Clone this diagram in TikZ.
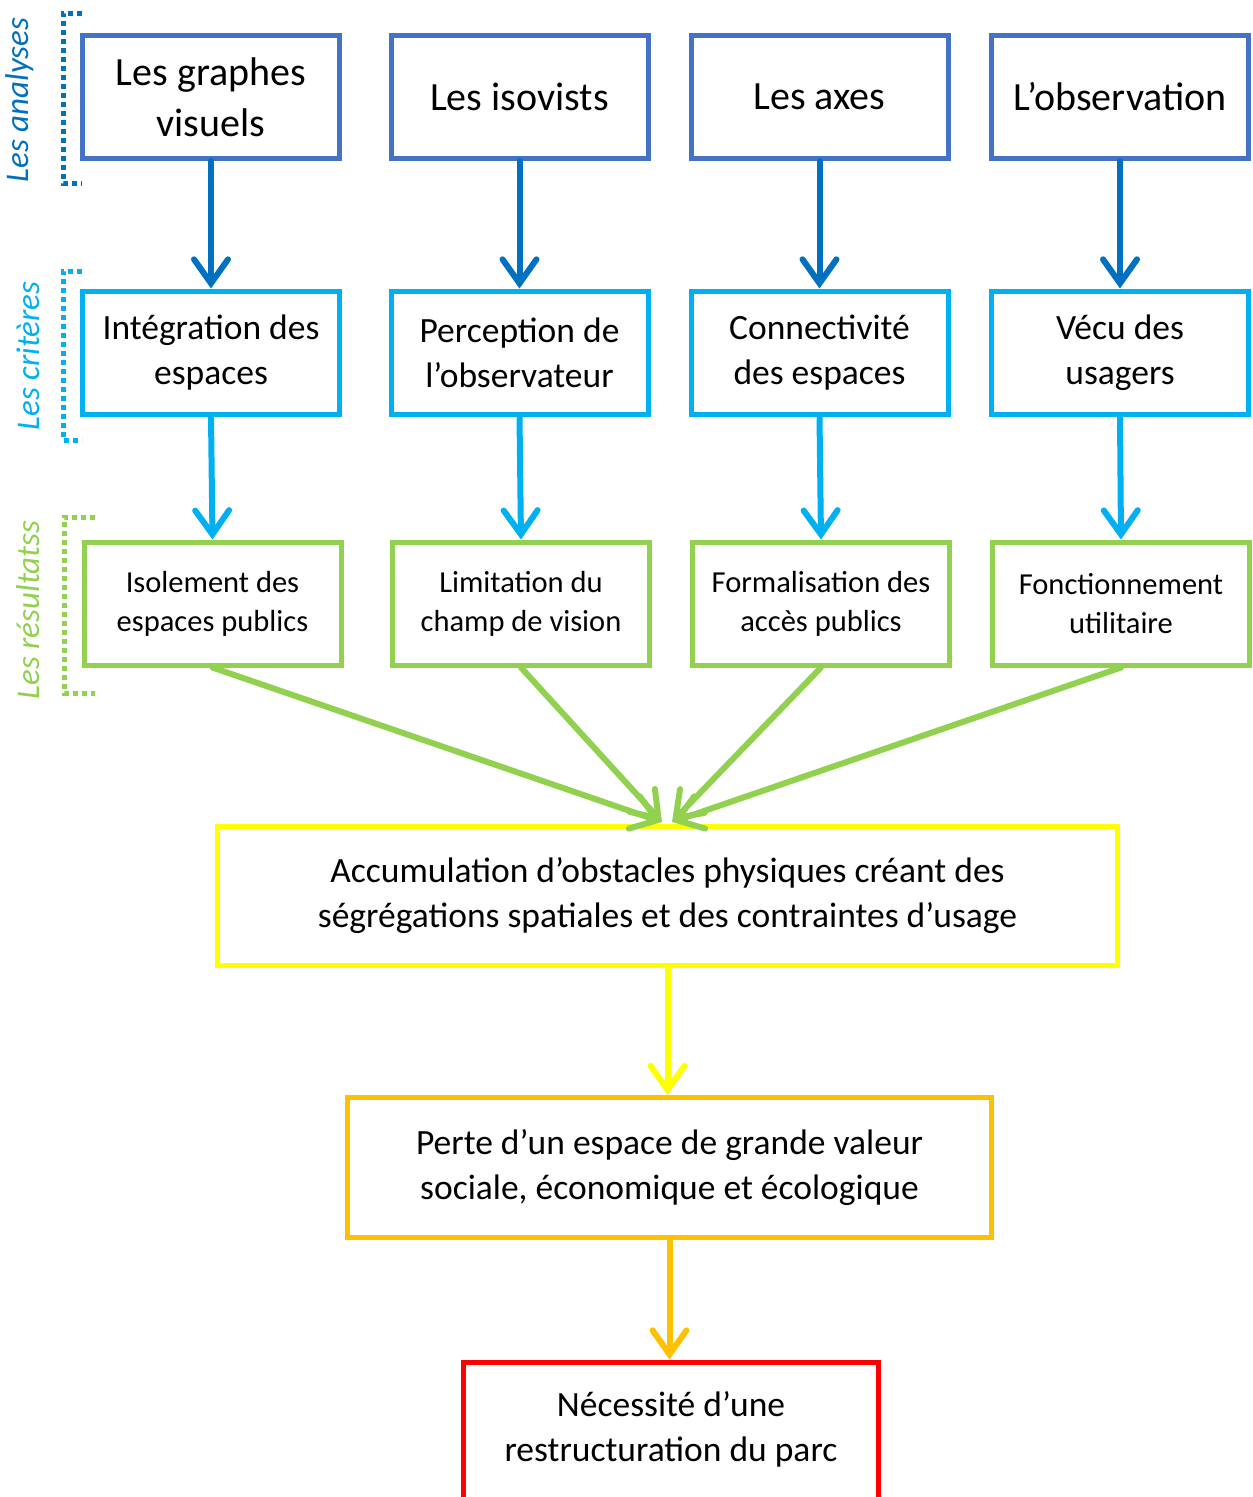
\documentclass[tikz,border=0pt]{standalone}
\usepackage{fontspec}
\setmainfont{Carlito}
\usetikzlibrary{arrows.meta}
\definecolor{cA}{HTML}{4472C4}
\definecolor{cAarr}{HTML}{0070C0}
\definecolor{cB}{HTML}{00B0F0}
\definecolor{cC}{HTML}{92D050}
\definecolor{cY}{HTML}{FFFF00}
\definecolor{cO}{HTML}{FFC000}
\definecolor{cR}{HTML}{FF0000}
\begin{document}
\begin{tikzpicture}[x=1pt,y=-1pt,
  box/.style={draw,line width=5pt,rectangle,align=center,inner sep=0pt,
    minimum width=257pt,minimum height=123pt,text=black},
  rowA/.style={box,draw=cA,font=\fontsize{40}{51}\selectfont},
  rowB/.style={box,draw=cB,font=\fontsize{35.5}{45}\selectfont},
  rowC/.style={box,draw=cC,font=\fontsize{30.5}{39}\selectfont},
  big/.style={box,font=\fontsize{35.5}{45}\selectfont},
  arr/.style={line width=6pt,-{Straight Barb[length=24pt,width=34pt,line cap=round]},line cap=round},
  side/.style={rotate=90,font=\itshape\fontsize{33}{36}\selectfont},
  brk/.style={line width=5pt,dash pattern=on 5pt off 4pt}
]
\useasboundingbox (0,0) rectangle (1253,1497);
% row A
\node[rowA] (a1) at (211,97) {Les graphes\\visuels};
\node[rowA] (a2) at (519.5,97) {Les isovists};
\node[rowA] (a3) at (819.5,97) {Les axes};
\node[rowA] (a4) at (1120,97) {L’observation};
% row B
\node[rowB] (b1) at (211,352.5) {Intégration des\\espaces};
\node[rowB] (b2) at (519.5,352.5) {Perception de\\l’observateur};
\node[rowB] (b3) at (819.5,352.5) {Connectivité\\des espaces};
\node[rowB] (b4) at (1120,352.5) {Vécu des\\usagers};
% row C
\node[rowC] (c1) at (212.5,603.5) {Isolement des\\espaces publics};
\node[rowC] (c2) at (521,603.5) {Limitation du\\champ de vision};
\node[rowC] (c3) at (821,603.5) {Formalisation des\\accès publics};
\node[rowC] (c4) at (1121,603.5) {Fonctionnement\\utilitaire};
% big boxes
\node[big,draw=cY,minimum width=900pt,minimum height=139pt] (y) at (667.5,895.5) {Accumulation d’obstacles physiques créant des\\ségrégations spatiales et des contraintes d’usage};
\node[big,draw=cO,minimum width=644pt,minimum height=140pt] (o) at (669.5,1167.5) {Perte d’un espace de grande valeur\\sociale, économique et écologique};
\node[big,draw=cR,minimum width=415pt,minimum height=180pt,anchor=north] (r) at (671,1359.5) {};
\node[font=\fontsize{35.5}{45}\selectfont,align=center] (rt) at (671,1429.5) {Nécessité d’une\\restructuration du parc};
% arrows A->B
\foreach \i in {1,...,4}{
  \draw[arr,cAarr] (a\i.south) -- (b\i.north);
  \draw[arr,cB] (b\i.south) -- (c\i.north);
}
% C -> yellow
\coordinate (tl) at (662,822);
\coordinate (tr) at (672,822);
\draw[arr,cC] (c1.south) -- (tl);
\draw[arr,cC] (c2.south) -- (tl);
\draw[arr,cC] (c3.south) -- (tr);
\draw[arr,cC] (c4.south) -- (tr);
\draw[arr,cY] (y.south) -- (o.north -| y.south);
\draw[arr,cO] (o.south) -- (r.north -| o.south);
% side labels
\node[side,text=cAarr] (la) at (20,100) {Les analyses};
\node[side,text=cB] (lb) at (28,356) {Les critères};
\node[side,text=cC] (lc) at (28,610) {Les résultatss};
% brackets
\draw[brk,cAarr] (82,13) -- (63,13) -- (63,183) -- (82,183);
\draw[brk,cB] (82,271) -- (63,271) -- (63,440) -- (82,440);
\draw[brk,cC] (95,517) -- (64,517) -- (64,693) -- (95,693);
\end{tikzpicture}
\end{document}
